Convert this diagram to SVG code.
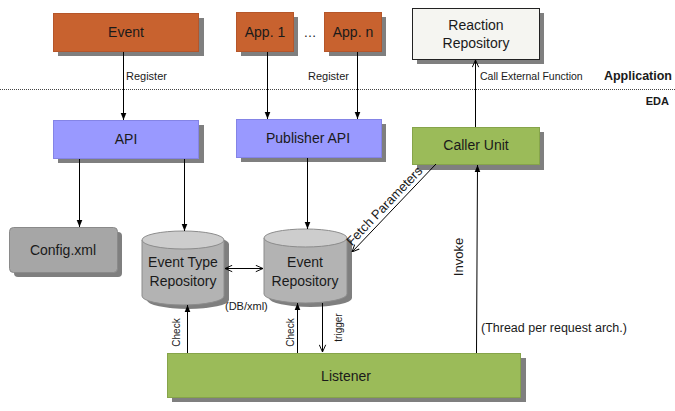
<svg xmlns="http://www.w3.org/2000/svg" width="675" height="411" viewBox="0 0 675 411">
<defs>
<style>
.t{font-family:"Liberation Sans",Arial,sans-serif;fill:#1a1a1a}
.box{font-size:14px}
.sm{font-size:11px}
.sh{fill:#7f7f7f}
.line{stroke:#000;stroke-width:1;fill:none}
.orange{fill:#C8622F;stroke:#b5562a;stroke-width:1}
.purple{fill:#9999FF;stroke:#8484e6;stroke-width:1}
.green{fill:#9BBB59;stroke:#86a44a;stroke-width:1}
.cylb{fill:#B3B3B3;stroke:#8c8c8c;stroke-width:1}
.cylt{fill:#CDCDCD;stroke:#8c8c8c;stroke-width:1}
</style>
<marker id="ah" viewBox="0 0 10 10" refX="10" refY="5" markerWidth="7" markerHeight="7" markerUnits="userSpaceOnUse" orient="auto">
<path d="M0,1 L10,5 L0,9 Z" fill="#000"/>
</marker>
<marker id="oh" viewBox="0 0 10 10" refX="10" refY="5" markerWidth="8" markerHeight="8" markerUnits="userSpaceOnUse" orient="auto-start-reverse">
<path d="M1,1 L10,5 L1,9" fill="none" stroke="#000" stroke-width="1.2"/>
</marker>
</defs>
<rect width="675" height="411" fill="#fff"/>

<!-- layer separator -->
<line x1="0" y1="89.5" x2="675" y2="89.5" stroke="#444" stroke-width="1" stroke-dasharray="1,1"/>
<text class="t" x="672" y="80" font-size="12.5" font-weight="bold" text-anchor="end">Application</text>
<text class="t" x="669" y="105" font-size="11" font-weight="bold" text-anchor="end">EDA</text>

<g id="event">
<rect class="sh" x="58" y="18" width="146" height="38"/>
<rect class="orange" x="53.5" y="13.5" width="145" height="38"/>
<text class="t box" x="126" y="37" text-anchor="middle">Event</text>
</g>
<g id="app1">
<rect class="sh" x="241" y="17" width="57" height="39"/>
<rect class="orange" x="236.5" y="12.5" width="57" height="39"/>
<text class="t box" x="265" y="37" text-anchor="middle">App. 1</text>
</g>
<text class="t" x="310" y="37" font-size="13" text-anchor="middle">…</text>
<g id="appn">
<rect class="sh" x="329" y="17" width="57" height="39"/>
<rect class="orange" x="324.5" y="12.5" width="57" height="39"/>
<text class="t box" x="353" y="37" text-anchor="middle">App. n</text>
</g>
<g id="reaction">
<rect class="sh" x="417" y="13" width="127" height="51"/>
<rect x="412.5" y="8.5" width="127" height="51" fill="#F5F5F1" stroke="#222" stroke-width="1"/>
<text class="t box" x="476" y="30" text-anchor="middle">Reaction</text>
<text class="t box" x="476" y="48" text-anchor="middle">Repository</text>
</g>
<g id="api">
<rect class="sh" x="58" y="125" width="146" height="38"/>
<rect class="purple" x="53.5" y="120.5" width="145" height="38"/>
<text class="t box" x="126" y="144" text-anchor="middle">API</text>
</g>
<g id="publisher">
<rect class="sh" x="241" y="124" width="145" height="38"/>
<rect class="purple" x="236.5" y="119.5" width="145" height="38"/>
<text class="t box" x="308" y="143" text-anchor="middle">Publisher API</text>
</g>
<g id="caller">
<rect class="sh" x="417" y="132" width="127" height="38"/>
<rect class="green" x="412.5" y="127.5" width="127" height="37"/>
<text class="t box" x="476" y="150" text-anchor="middle">Caller Unit</text>
</g>
<g id="config">
<rect class="sh" x="14" y="232" width="108" height="45" rx="4"/>
<rect x="9.5" y="227.5" width="108" height="45" rx="4" fill="#A6A6A6" stroke="#8a8a8a" stroke-width="1"/>
<text class="t box" x="63" y="255" text-anchor="middle">Config.xml</text>
</g>
<g id="eventtype">
<path class="sh" d="M147,244 A41,9 0 0 1 229,244 L229,300 A41,9 0 0 1 147,300 Z"/>
<path class="cylb" d="M142,240 L142,296 A41,9 0 0 0 224,296 L224,240"/>
<ellipse class="cylt" cx="183" cy="240" rx="41" ry="9"/>
<text class="t box" x="183" y="267" text-anchor="middle">Event Type</text>
<text class="t box" x="183" y="286" text-anchor="middle">Repository</text>
</g>
<g id="eventrepo">
<path class="sh" d="M269,242 A41.5,9 0 0 1 352,242 L352,298 A41.5,9 0 0 1 269,298 Z"/>
<path class="cylb" d="M264,238 L264,294 A41.5,9 0 0 0 347,294 L347,238"/>
<ellipse class="cylt" cx="305.5" cy="238" rx="41.5" ry="9"/>
<text class="t box" x="305" y="267" text-anchor="middle">Event</text>
<text class="t box" x="305" y="286" text-anchor="middle">Repository</text>
</g>
<g id="listener">
<rect class="sh" x="172" y="358" width="354" height="44"/>
<rect class="green" x="167.5" y="353.5" width="353" height="44"/>
<text class="t box" x="346" y="381" text-anchor="middle">Listener</text>
</g>

<g id="connectors">
<line class="line" x1="123.5" y1="52" x2="123.5" y2="120" marker-end="url(#ah)"/>
<line class="line" x1="267.5" y1="52" x2="267.5" y2="119" marker-end="url(#ah)"/>
<line class="line" x1="357.5" y1="52" x2="357.5" y2="119" marker-end="url(#ah)"/>
<line class="line" x1="475.5" y1="127" x2="475.5" y2="60" marker-end="url(#oh)"/>
<line class="line" x1="79.5" y1="159" x2="79.5" y2="227" marker-end="url(#ah)"/>
<line class="line" x1="184.5" y1="159" x2="184.5" y2="231" marker-end="url(#ah)"/>
<line class="line" x1="307.5" y1="158" x2="307.5" y2="229" marker-end="url(#ah)"/>
<line class="line" x1="225" y1="268.5" x2="263" y2="268.5" marker-start="url(#oh)" marker-end="url(#oh)"/>
<line class="line" x1="436" y1="164" x2="352" y2="252" marker-end="url(#oh)"/>
<line class="line" x1="187.5" y1="353" x2="187.5" y2="305" marker-end="url(#ah)"/>
<line class="line" x1="297.5" y1="353" x2="297.5" y2="303" marker-end="url(#ah)"/>
<line class="line" x1="322.5" y1="303" x2="322.5" y2="352" marker-end="url(#oh)"/>
<line class="line" x1="476.5" y1="353" x2="477.5" y2="165" marker-end="url(#ah)"/>

<text class="t sm" x="126" y="80">Register</text>
<text class="t sm" x="308" y="80">Register</text>
<text class="t" x="480" y="80" font-size="10.5">Call External  Function</text>
<text class="t" font-size="13" text-anchor="middle" transform="translate(387.5,209) rotate(-46.4)">Fetch Parameters</text>
<text class="t" font-size="13" text-anchor="middle" transform="translate(463,257) rotate(-90)">Invoke</text>
<text class="t sm" x="225" y="310">(DB/xml)</text>
<text class="t" font-size="10" text-anchor="middle" transform="translate(180,332.5) rotate(-90)">Check</text>
<text class="t" font-size="10" text-anchor="middle" transform="translate(294,332.5) rotate(-90)">Check</text>
<text class="t" font-size="10" text-anchor="middle" transform="translate(342,327.5) rotate(-90)">trigger</text>
<text class="t" x="481" y="332" font-size="12.5">(Thread per request arch.)</text>
</g>
</svg>
